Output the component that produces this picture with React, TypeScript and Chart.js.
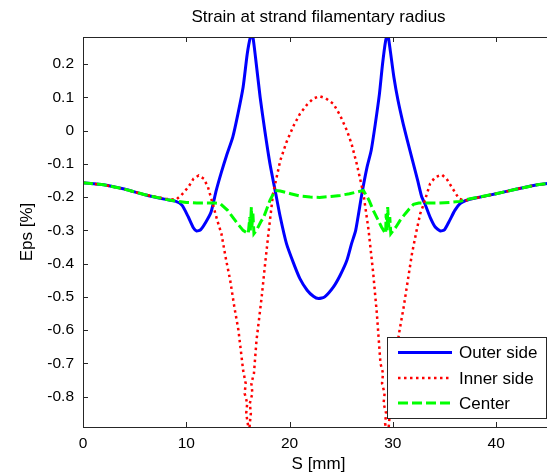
import React, { useEffect, useRef } from "react";
import { Chart, registerables } from "chart.js";

Chart.register(...registerables);

const TITLE = "Strain at strand filamentary radius";
const X_LABEL = "S [mm]";
const Y_LABEL = "Eps [%]";
const SERIES_NAMES = ["Outer side", "Inner side", "Center"];

const xTicks = [0, 10, 20, 30, 40];
const xTickLabels = ["0", "10", "20", "30", "40"];
const yTicks = [-0.8, -0.7, -0.6, -0.5, -0.4, -0.3, -0.2, -0.1, 0, 0.1, 0.2];
const yTickLabels = ["-0.8", "-0.7", "-0.6", "-0.5", "-0.4", "-0.3", "-0.2", "-0.1", "0", "0.1", "0.2"];

const outerS = [0, 2, 4, 6, 8, 9, 9.6, 10.2, 10.7, 11.0, 11.4, 11.9, 12.4, 12.9, 13.4, 13.9, 14.5, 15.0, 15.5, 15.9, 16.2, 16.4, 16.7, 17.15, 17.6, 18.1, 18.6, 19.1, 19.7, 20.4, 21.0, 21.7, 22.3, 22.8, 23.4, 24.25, 24.9, 25.55, 26.0, 26.4, 27.0, 27.5, 27.9, 28.3, 28.7, 29.0, 29.3, 29.5, 29.75, 30.1, 30.5, 31.0, 31.4, 31.9, 32.4, 32.8, 33.1, 33.6, 34.1, 34.6, 35.0, 35.5, 36.0, 36.5, 37.0, 38, 40, 42, 44, 45.6];
const outerEps = [-0.157, -0.163, -0.176, -0.193, -0.207, -0.213, -0.225, -0.26, -0.293, -0.302, -0.298, -0.275, -0.245, -0.18, -0.125, -0.075, -0.02, 0.05, 0.13, 0.23, 0.28, 0.29, 0.22, 0.10, 0.0, -0.10, -0.18, -0.26, -0.34, -0.40, -0.445, -0.48, -0.498, -0.505, -0.50, -0.47, -0.435, -0.39, -0.34, -0.30, -0.19, -0.11, -0.06, 0.02, 0.11, 0.20, 0.27, 0.29, 0.24, 0.16, 0.09, 0.02, -0.03, -0.09, -0.15, -0.20, -0.22, -0.26, -0.29, -0.302, -0.298, -0.27, -0.24, -0.22, -0.211, -0.203, -0.19, -0.176, -0.163, -0.157];

const innerS = [0, 2, 4, 6, 8, 9, 9.5, 10.2, 10.7, 11.2, 11.7, 12.1, 12.6, 13.0, 13.4, 13.8, 14.25, 14.65, 15.05, 15.5, 15.75, 15.65, 15.9, 15.8, 16.0, 16.05, 16.15, 16.25, 16.15, 16.4, 16.3, 16.55, 16.8, 17.3, 17.6, 17.95, 18.4, 19.1, 19.7, 20.4, 21.0, 21.7, 22.3, 22.9, 23.5, 24.25, 24.9, 25.55, 26.0, 26.5, 27.15, 27.65, 28.1, 28.45, 28.8, 29.05, 28.95, 29.2, 29.1, 29.35, 29.25, 29.55, 29.6, 29.7, 29.6, 29.8, 29.7, 29.95, 30.2, 30.65, 31.05, 31.45, 31.85, 32.3, 32.65, 33.0, 33.6, 34.1, 34.75, 35.2, 35.7, 36.4, 37, 38, 40, 42, 44, 45.6];
const innerEps = [-0.157, -0.163, -0.176, -0.193, -0.205, -0.208, -0.195, -0.17, -0.145, -0.135, -0.145, -0.17, -0.225, -0.27, -0.31, -0.38, -0.45, -0.53, -0.60, -0.72, -0.76, -0.79, -0.82, -0.85, -0.89, -0.93, -0.88, -0.85, -0.82, -0.79, -0.76, -0.73, -0.63, -0.50, -0.41, -0.31, -0.19, -0.09, -0.035, 0.015, 0.05, 0.078, 0.096, 0.103, 0.097, 0.08, 0.045, 0.0, -0.04, -0.10, -0.19, -0.30, -0.43, -0.55, -0.70, -0.73, -0.76, -0.79, -0.82, -0.85, -0.88, -0.93, -0.89, -0.85, -0.82, -0.79, -0.76, -0.73, -0.69, -0.60, -0.53, -0.45, -0.37, -0.30, -0.25, -0.22, -0.16, -0.14, -0.133, -0.145, -0.17, -0.205, -0.211, -0.203, -0.19, -0.176, -0.163, -0.157];

const centerS = [0, 2, 4, 6, 8, 9, 10, 11, 12, 12.8, 13.3, 14.0, 14.6, 15.1, 15.5, 16.0, 16.15, 16.2, 16.3, 16.35, 16.45, 16.55, 16.8, 17.2, 17.5, 17.8, 18.1, 18.6, 19.1, 20.1, 21.0, 22.0, 22.9, 24.0, 24.9, 25.8, 26.5, 27.15, 27.7, 28.1, 28.5, 28.9, 29.3, 29.35, 29.45, 29.5, 29.6, 29.7, 29.8, 30.3, 30.7, 31.2, 31.6, 32.0, 32.5, 33.5, 34.5, 35.5, 36.5, 37.5, 40, 42, 44, 45.6];
const centerEps = [-0.157, -0.163, -0.176, -0.193, -0.207, -0.212, -0.216, -0.218, -0.218, -0.218, -0.22, -0.24, -0.265, -0.285, -0.30, -0.31, -0.26, -0.30, -0.23, -0.29, -0.25, -0.31, -0.30, -0.275, -0.26, -0.235, -0.21, -0.18, -0.182, -0.19, -0.197, -0.20, -0.201, -0.198, -0.195, -0.19, -0.185, -0.18, -0.21, -0.24, -0.265, -0.29, -0.31, -0.25, -0.30, -0.23, -0.29, -0.26, -0.31, -0.29, -0.27, -0.25, -0.235, -0.222, -0.218, -0.218, -0.218, -0.216, -0.213, -0.205, -0.19, -0.176, -0.163, -0.157];

const X_MIN = 0;
const X_MAX = 45.6;
const Y_MIN = -0.891;
const Y_MAX = 0.281;

const FONT = "'Liberation Sans', Arial, Helvetica, sans-serif";
const COLORS = ["#0000ff", "#ff0000", "#00ff00"];
const DASHES: number[][] = [[], [2.5, 3.5], [10, 4]];
const WIDTHS = [3, 2.5, 3];

const CANVAS_W = 570;
const CANVAS_H = 476;

const toPts = (xs: number[], ys: number[]) => xs.map((x, i) => ({ x, y: ys[i] }));

const framePlugin = {
  id: "matlabFrame",
  afterDatasetsDraw(chart: any) {
    const { ctx, chartArea: ca, scales } = chart;
    const xs = scales.x;
    const ys = scales.y;
    ctx.save();
    ctx.strokeStyle = "#262626";
    ctx.lineWidth = 1;
    ctx.setLineDash([]);
    ctx.strokeRect(Math.round(ca.left) + 0.5, Math.round(ca.top) + 0.5, Math.round(ca.right - ca.left), Math.round(ca.bottom - ca.top));
    const tl = 5;
    ctx.beginPath();
    xTicks.forEach((v) => {
      const px = Math.round(xs.getPixelForValue(v)) + 0.5;
      ctx.moveTo(px, ca.bottom);
      ctx.lineTo(px, ca.bottom - tl);
      ctx.moveTo(px, ca.top);
      ctx.lineTo(px, ca.top + tl);
    });
    yTicks.forEach((v) => {
      const py = Math.round(ys.getPixelForValue(v)) + 0.5;
      ctx.moveTo(ca.left, py);
      ctx.lineTo(ca.left + tl, py);
      ctx.moveTo(ca.right, py);
      ctx.lineTo(ca.right - tl, py);
    });
    ctx.stroke();

    // legend
    const lw = 159;
    const lh = 81;
    const lx = Math.round(ca.right - 8 - lw);
    const ly = Math.round(ca.bottom - 9 - lh);
    ctx.fillStyle = "#ffffff";
    ctx.fillRect(lx, ly, lw, lh);
    ctx.strokeStyle = "#262626";
    ctx.strokeRect(lx + 0.5, ly + 0.5, lw, lh);
    const rows = [15.5, 41, 66];
    ctx.font = `17px ${FONT}`;
    ctx.textBaseline = "middle";
    ctx.textAlign = "left";
    SERIES_NAMES.forEach((name, i) => {
      const y = ly + rows[i];
      ctx.beginPath();
      ctx.strokeStyle = COLORS[i];
      ctx.lineWidth = WIDTHS[i];
      ctx.setLineDash(DASHES[i]);
      ctx.moveTo(lx + 11, y);
      ctx.lineTo(lx + 65, y);
      ctx.stroke();
      ctx.setLineDash([]);
      ctx.fillStyle = "#000000";
      ctx.fillText(name, lx + 72, y + 1);
    });
    ctx.restore();
  },
};

export default function App() {
  const canvasRef = useRef<HTMLCanvasElement | null>(null);

  useEffect(() => {
    const canvas = canvasRef.current;
    if (!canvas) return;
    const tickFont = { family: FONT, size: 15.5 };
    const labelFont = { family: FONT, size: 17 };
    const chart = new Chart(canvas, {
      type: "line",
      data: {
        datasets: [
          {
            label: SERIES_NAMES[0],
            data: toPts(outerS, outerEps),
            borderColor: COLORS[0],
            borderWidth: WIDTHS[0],
            borderDash: DASHES[0],
            pointRadius: 0,
            tension: 0.2,
            fill: false,
            clip: 0,
            order: 3,
          },
          {
            label: SERIES_NAMES[1],
            data: toPts(innerS, innerEps),
            borderColor: COLORS[1],
            borderWidth: WIDTHS[1],
            borderDash: DASHES[1],
            pointRadius: 0,
            tension: 0,
            fill: false,
            clip: 0,
            order: 2,
          },
          {
            label: SERIES_NAMES[2],
            data: toPts(centerS, centerEps),
            borderColor: COLORS[2],
            borderWidth: WIDTHS[2],
            borderDash: DASHES[2],
            pointRadius: 0,
            tension: 0,
            fill: false,
            clip: 0,
            order: 1,
          },
        ],
      },
      options: {
        responsive: false,
        animation: false,
        devicePixelRatio: 1,
        layout: { padding: { left: 0, right: CANVAS_W - 554, top: 0, bottom: 0 } },
        plugins: {
          legend: { display: false },
          tooltip: { enabled: false },
          title: {
            display: true,
            text: TITLE,
            fullSize: false,
            color: "#000000",
            font: { family: FONT, size: 17, weight: "normal" },
            padding: { top: 7.5, bottom: 9.1 },
          },
        },
        scales: {
          x: {
            type: "linear",
            position: "bottom",
            min: X_MIN,
            max: X_MAX,
            afterFit: (s: any) => {
              s.height = 49;
            },
            afterBuildTicks: (s: any) => {
              s.ticks = xTicks.map((v) => ({ value: v }));
            },
            grid: { display: false, drawTicks: false },
            border: { display: false },
            ticks: {
              color: "#000000",
              font: tickFont,
              padding: 7,
              maxRotation: 0,
              autoSkip: false,
              callback: (_v: any, i: number) => xTickLabels[i],
            },
            title: {
              display: true,
              text: X_LABEL,
              color: "#000000",
              font: labelFont,
              padding: { top: 0, bottom: 1.5 },
            },
          },
          y: {
            type: "linear",
            position: "left",
            min: Y_MIN,
            max: Y_MAX,
            afterFit: (s: any) => {
              s.width = 83;
            },
            afterBuildTicks: (s: any) => {
              s.ticks = yTicks.map((v) => ({ value: v }));
            },
            grid: { display: false, drawTicks: false },
            border: { display: false },
            ticks: {
              color: "#000000",
              font: tickFont,
              padding: 9,
              autoSkip: false,
              callback: (_v: any, i: number) => yTickLabels[i],
            },
            title: {
              display: true,
              text: Y_LABEL,
              color: "#000000",
              font: labelFont,
              padding: { top: 16.8, bottom: 0 },
            },
          },
        },
      },
      plugins: [framePlugin],
    } as any);
    return () => chart.destroy();
  }, []);

  return (
    <div
      style={{
        position: "fixed",
        left: 0,
        top: 0,
        width: 547,
        height: 476,
        overflow: "hidden",
        background: "#ffffff",
      }}
    >
      <canvas
        ref={canvasRef}
        width={CANVAS_W}
        height={CANVAS_H}
        style={{ display: "block", width: CANVAS_W, height: CANVAS_H }}
      />
    </div>
  );
}
